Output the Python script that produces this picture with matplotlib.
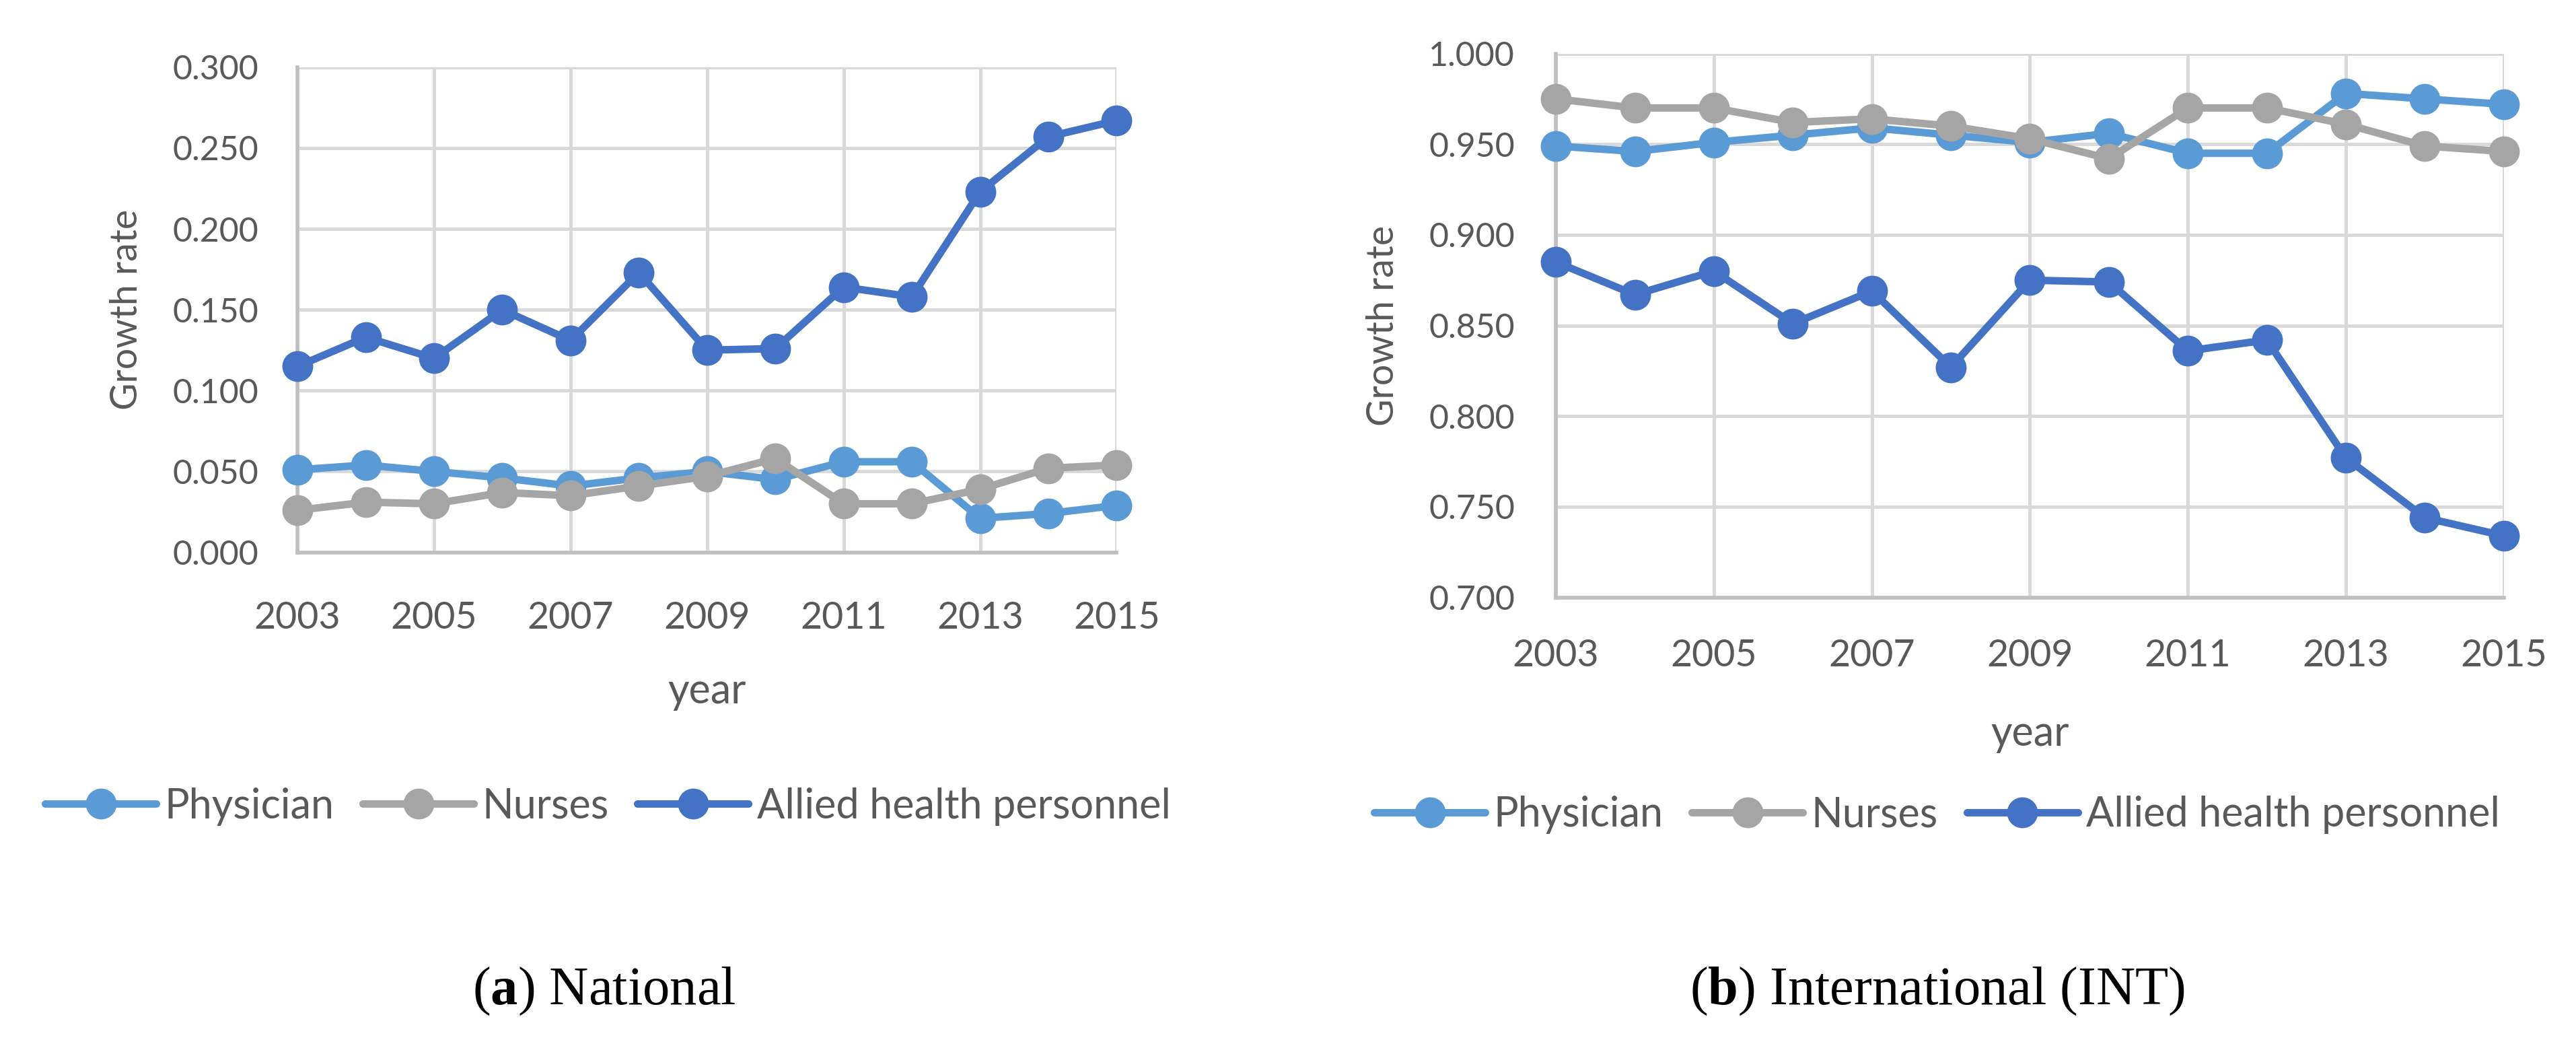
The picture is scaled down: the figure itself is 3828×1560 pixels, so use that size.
import matplotlib
matplotlib.use('Agg')
import matplotlib.pyplot as plt

plt.rcParams['font.family'] = ['Lato', 'DejaVu Sans']
plt.rcParams['mathtext.fontset'] = 'custom'
plt.rcParams['mathtext.bf'] = 'Liberation Serif:bold'
plt.rcParams['mathtext.rm'] = 'Liberation Serif'

# Data
years = list(range(2003, 2016))
series_names = ['Physician', 'Nurses', 'Allied health personnel']

nat_physician = [0.051, 0.054, 0.050, 0.046, 0.041, 0.046, 0.050, 0.045, 0.056, 0.056, 0.021, 0.024, 0.029]
nat_nurses = [0.026, 0.031, 0.030, 0.037, 0.035, 0.041, 0.047, 0.058, 0.030, 0.030, 0.039, 0.052, 0.054]
nat_allied = [0.115, 0.133, 0.120, 0.150, 0.131, 0.173, 0.125, 0.126, 0.164, 0.158, 0.223, 0.257, 0.267]

int_physician = [0.949, 0.946, 0.951, 0.955, 0.959, 0.955, 0.951, 0.956, 0.945, 0.945, 0.978, 0.975, 0.972]
int_nurses = [0.975, 0.970, 0.970, 0.962, 0.964, 0.960, 0.953, 0.942, 0.970, 0.970, 0.961, 0.949, 0.946]
int_allied = [0.885, 0.867, 0.880, 0.851, 0.869, 0.827, 0.875, 0.874, 0.836, 0.842, 0.777, 0.744, 0.734]

nat_yticks = [0.0, 0.05, 0.10, 0.15, 0.20, 0.25, 0.30]
int_yticks = [0.70, 0.75, 0.80, 0.85, 0.90, 0.95, 1.00]
xticks = [2003, 2005, 2007, 2009, 2011, 2013, 2015]

colors = ['#5B9BD5', '#A5A5A5', '#4472C4']
text_col = '#595959'
grid_col = '#D9D9D9'
axis_col = '#BFBFBF'


def draw_panel(ax, data, yticks, xpad, ypad, xlabpad):
    for vals, name, c in zip(data, series_names, colors):
        ax.plot(years, vals, color=c, lw=8, marker='o', ms=32, label=name,
                solid_capstyle='round', clip_on=False, zorder=3)
    ax.set_xlim(years[0], years[-1])
    ax.set_ylim(yticks[0], yticks[-1])
    ax.set_xticks(xticks)
    ax.set_yticks(yticks)
    ax.set_yticklabels(['%.3f' % v for v in yticks])
    ax.grid(True, color=grid_col, lw=3.5, zorder=0)
    ax.set_axisbelow(True)
    for s in ['top', 'right']:
        ax.spines[s].set_visible(False)
    for s in ['bottom', 'left']:
        ax.spines[s].set_color(axis_col)
        ax.spines[s].set_linewidth(4)
    ax.tick_params(axis='x', length=0, pad=xpad, labelsize=40, labelcolor=text_col)
    ax.tick_params(axis='y', length=0, pad=ypad, labelsize=36, labelcolor=text_col)
    ax.set_xlabel('year', fontsize=44, color=text_col, labelpad=xlabpad)
    ax.set_ylabel('Growth rate', fontsize=40, color=text_col, labelpad=30)


fig = plt.figure(figsize=(38.28, 15.6), dpi=100)
ax1 = fig.add_axes([0.1155, 0.474, 0.318, 0.462])
ax2 = fig.add_axes([0.604, 0.431, 0.368, 0.518])

draw_panel(ax1, [nat_physician, nat_nurses, nat_allied], nat_yticks, 52, 42, 40)
draw_panel(ax2, [int_physician, int_nurses, int_allied], int_yticks, 44, 44, 45)

for ax, xc, yc in [(ax1, 0.236, 0.232), (ax2, 0.752, 0.224)]:
    h, l = ax.get_legend_handles_labels()
    leg = fig.legend(h, l, loc='center', bbox_to_anchor=(xc, yc), ncol=3,
                     frameon=False, fontsize=44, handlelength=2.7,
                     columnspacing=0.7, handletextpad=0.2)
    for t in leg.get_texts():
        t.set_color(text_col)

cap_font = ['Liberation Serif', 'DejaVu Serif']
fig.text(0.2345, 0.056, r'($\mathbf{a}$) National', ha='center', va='center',
         fontsize=58, family=cap_font)
fig.text(0.752, 0.056, r'($\mathbf{b}$) International (INT)', ha='center', va='center',
         fontsize=58, family=cap_font)

fig.savefig('out.png', dpi=100)
